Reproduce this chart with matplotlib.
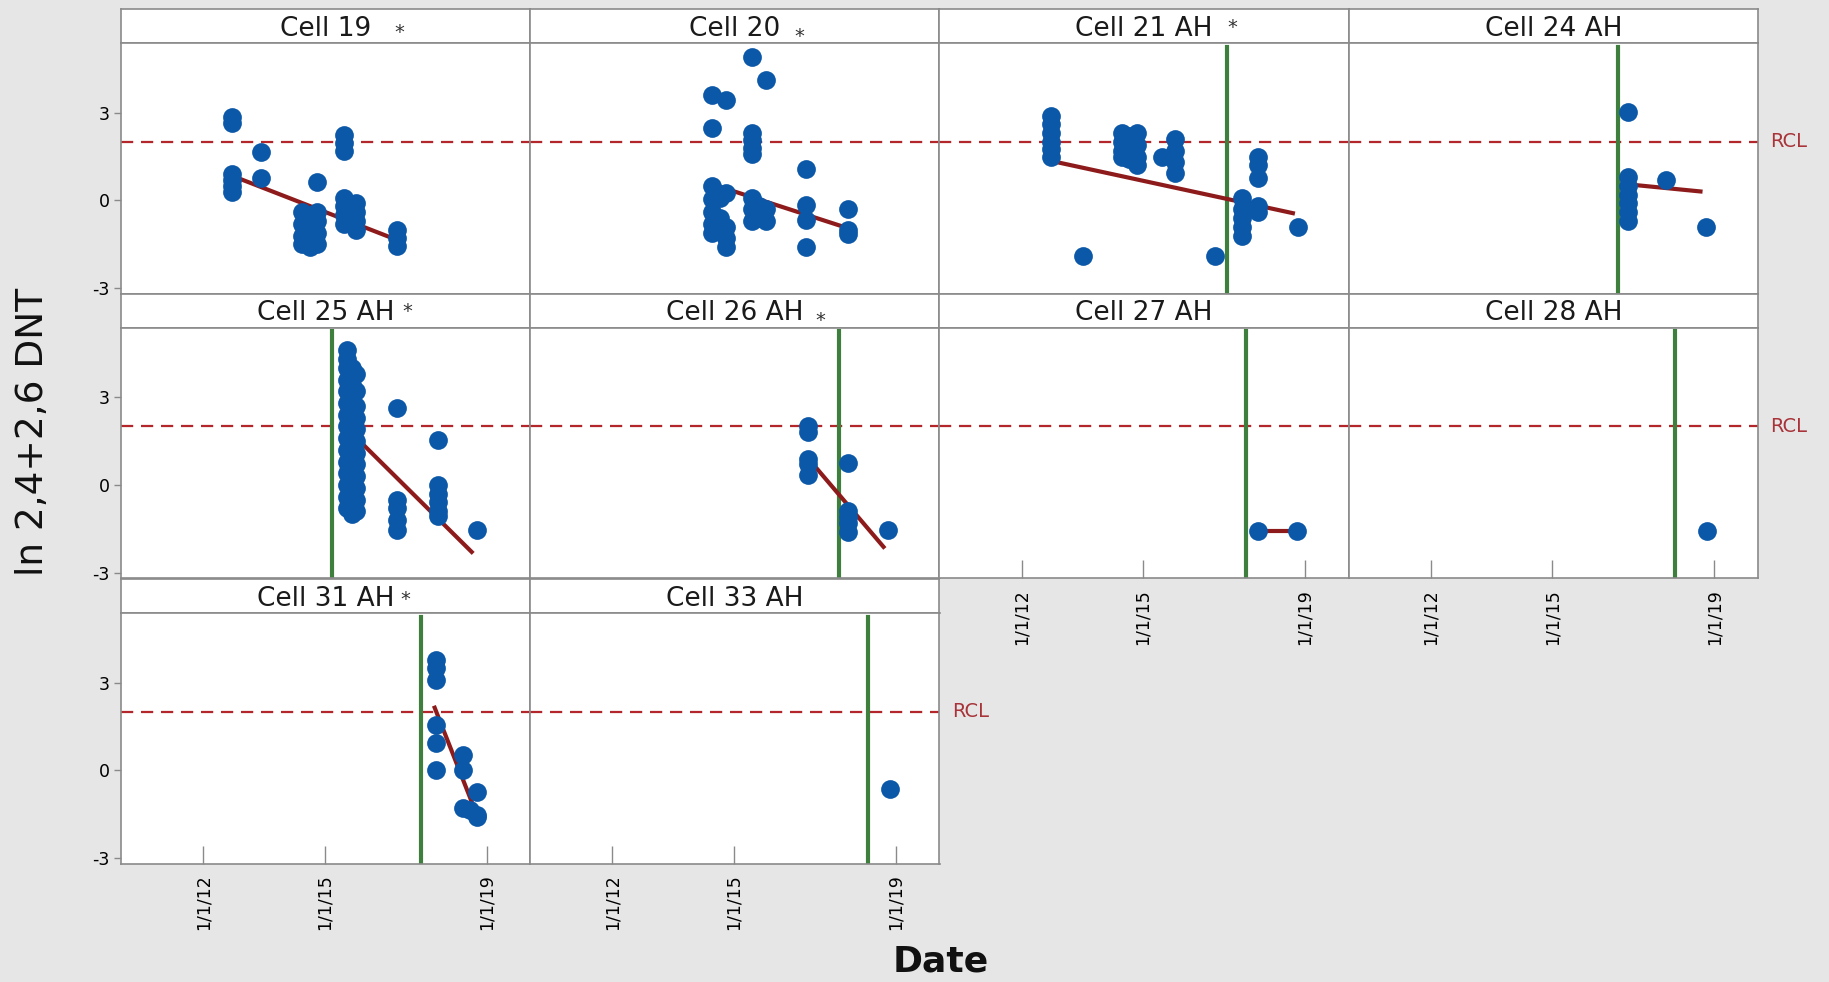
import matplotlib
matplotlib.use('Agg')
import matplotlib.pyplot as plt

# Panel names, in reading order (4 columns)
cells = ['Cell 19', 'Cell 20', 'Cell 21 AH', 'Cell 24 AH', 'Cell 25 AH',
         'Cell 26 AH', 'Cell 27 AH', 'Cell 28 AH', 'Cell 31 AH', 'Cell 33 AH']
starred = [True, True, True, False, True, True, False, False, True, False]

# Sample dates as decimal years, values are ln(2,4+2,6 DNT)
cell19_date = [2012.70, 2012.70, 2012.70, 2012.70, 2012.70, 2012.70,
               2013.42, 2013.42, 2014.82,
               2014.45, 2014.45, 2014.45, 2014.45,
               2014.65, 2014.65, 2014.65, 2014.65,
               2014.82, 2014.82, 2014.82, 2014.82,
               2015.47, 2015.47, 2015.47, 2015.47, 2015.47, 2015.47, 2015.47,
               2015.78, 2015.78, 2015.78, 2015.78,
               2016.79, 2016.79, 2016.79]
cell19_value = [2.85, 2.65, 0.9, 0.7, 0.5, 0.3,
                1.65, 0.75, 0.63,
                -0.4, -0.8, -1.2, -1.5,
                -0.5, -0.9, -1.3, -1.6,
                -0.4, -0.7, -1.1, -1.5,
                2.25, 1.95, 1.7, 0.1, -0.2, -0.5, -0.8,
                -0.1, -0.4, -0.7, -1.0,
                -1.0, -1.3, -1.55]

cell20_date = [2015.46, 2015.79, 2014.47, 2014.81, 2014.47,
               2015.46, 2015.46, 2015.46, 2015.46,
               2016.77,
               2014.47, 2014.47, 2014.47, 2014.47, 2014.47,
               2014.65, 2014.65, 2014.81, 2014.81, 2014.81, 2014.81,
               2015.46, 2015.46, 2015.46, 2015.62, 2015.62, 2015.79, 2015.79,
               2016.77, 2016.77, 2016.77,
               2017.82, 2017.82, 2017.82]
cell20_value = [4.89, 4.10, 3.62, 3.44, 2.48,
                2.3, 2.05, 1.8, 1.6,
                1.08,
                0.5, 0.05, -0.4, -0.8, -1.1,
                0.1, -0.6, 0.25, -0.9, -1.3, -1.6,
                0.1, -0.3, -0.7, -0.2, -0.6, -0.3, -0.7,
                -0.17, -0.68, -1.59,
                -0.28, -1.02, -1.15]

cell21_date = [2012.73, 2012.73, 2012.73, 2012.73, 2012.73, 2012.73,
               2013.51,
               2014.47, 2014.47, 2014.47, 2014.47,
               2014.65, 2014.65, 2014.65,
               2014.85, 2014.85, 2014.85, 2014.85,
               2015.47,
               2015.80, 2015.80, 2015.80, 2015.80,
               2016.78,
               2017.44, 2017.44, 2017.44, 2017.44, 2017.44,
               2017.85, 2017.85, 2017.85, 2017.85, 2017.85,
               2018.83]
cell21_value = [2.9, 2.6, 2.3, 2.0, 1.75, 1.5,
                -1.91,
                2.3, 2.0, 1.7, 1.5,
                2.2, 1.8, 1.4,
                2.3, 1.9, 1.5, 1.2,
                1.48,
                2.1, 1.7, 1.3, 0.95,
                -1.91,
                0.1, -0.3, -0.6, -0.9, -1.2,
                1.5, 1.2, 0.75, -0.2, -0.4,
                -0.91]

cell24_date = [2016.87, 2016.87, 2016.87, 2016.87, 2016.87, 2016.87, 2016.87,
               2017.81, 2018.79]
cell24_value = [3.01, 0.8, 0.5, 0.2, -0.1, -0.4, -0.7, 0.71, -0.91]

cell25_date = [2015.55, 2015.55, 2015.55, 2015.55, 2015.55, 2015.55, 2015.55,
               2015.55, 2015.55, 2015.55, 2015.55, 2015.55, 2015.55, 2015.55,
               2015.55,
               2015.67, 2015.67, 2015.67, 2015.67, 2015.67, 2015.67, 2015.67,
               2015.67, 2015.67, 2015.67, 2015.67, 2015.67, 2015.67,
               2015.78, 2015.78, 2015.78, 2015.78, 2015.78, 2015.78, 2015.78,
               2015.78, 2015.78, 2015.78, 2015.78, 2015.78,
               2016.80, 2016.80, 2016.80, 2016.80, 2016.80,
               2017.79, 2017.79, 2017.79, 2017.79, 2017.79, 2017.79,
               2018.77]
cell25_value = [4.6, 4.3, 4.0, 3.6, 3.2, 2.8, 2.4, 2.0, 1.6, 1.2, 0.8, 0.4,
                0.0, -0.4, -0.8,
                4.0, 3.4, 3.0, 2.6, 2.2, 1.8, 1.4, 1.0, 0.6, 0.2, -0.2, -0.6,
                -1.0,
                3.8, 3.2, 2.7, 2.3, 1.9, 1.5, 1.1, 0.7, 0.3, -0.1, -0.5, -0.9,
                2.63, -0.5, -0.8, -1.2, -1.55,
                1.54, 0.0, -0.3, -0.6, -0.9, -1.05,
                -1.54]

cell26_date = [2016.84, 2016.84, 2016.84, 2016.84, 2016.84,
               2017.83, 2017.83, 2017.83, 2017.83, 2017.83,
               2018.81]
cell26_value = [2.0, 1.8, 0.9, 0.7, 0.35,
                0.74, -0.9, -1.1, -1.3, -1.6,
                -1.54]

cell27_date = [2017.84, 2018.81]
cell27_value = [-1.56, -1.56]

cell28_date = [2018.81]
cell28_value = [-1.57]

cell31_date = [2017.76, 2017.76, 2017.76, 2017.76, 2017.76, 2017.76,
               2018.42, 2018.42, 2018.42, 2018.60,
               2018.77, 2018.77, 2018.77]
cell31_value = [3.78, 3.49, 3.1, 1.56, 0.94, 0.0,
                0.54, 0.02, -1.28, -1.35,
                -0.72, -1.51, -1.59]

cell33_date = [2018.86]
cell33_value = [-0.64]

# vertical green marker per cell (None = no line)
green_date = [None, None, 2017.07, 2016.62, 2015.19,
              2017.59, 2017.55, 2018.04, 2017.39, 2018.31]

# fitted trend segments (None = no trend drawn)
trend_x0 = [2012.70, 2014.47, 2012.73, 2016.87, 2015.50,
            2016.84, 2017.84, None, 2017.70, None]
trend_y0 = [0.85, 0.55, 1.35, 0.55, 2.0, 0.9, -1.56, None, 2.21, None]
trend_x1 = [2016.79, 2017.82, 2018.75, 2018.71, 2018.67,
            2018.73, 2018.81, None, 2018.71, None]
trend_y1 = [-1.35, -0.95, -0.45, 0.3, -2.34, -2.17, -1.56, None, -1.34, None]

rcl = 2.0
tick_years = [2012, 2015, 2019]
tick_labels = ['1/1/12', '1/1/15', '1/1/19']
y_ticks = [-3, 0, 3]

dates = [cell19_date, cell20_date, cell21_date, cell24_date, cell25_date,
         cell26_date, cell27_date, cell28_date, cell31_date, cell33_date]
values = [cell19_value, cell20_value, cell21_value, cell24_value, cell25_value,
          cell26_value, cell27_value, cell28_value, cell31_value, cell33_value]

# ---- layout (pixels) ----
W, H = 1829, 982
left0, col_w = 121, 409.25
row_top = [9, 293.5, 579]
strip_h, plot_h = 34, 250.5

BG = '#E6E6E6'
FRAME = '#8A8A8A'
BLUE = '#0B57A8'
TREND = '#8E1B1B'
RCL_C = '#B3262C'
GREEN = '#3E7F3E'

# asterisk positions within each strip (axes fraction)
star_pos = {0: (0.681, 0.30), 1: (0.658, 0.20), 2: (0.716, 0.46),
            4: (0.700, 0.48), 5: (0.709, 0.20), 8: (0.694, 0.40)}


def px_rect(x, y, w, h):
    return [x / W, 1 - (y + h) / H, w / W, h / H]


fig = plt.figure(figsize=(W / 100, H / 100), dpi=100, facecolor=BG)

for i, name in enumerate(cells):
    row, col = divmod(i, 4)
    x = left0 + col * col_w
    ytop = row_top[row]

    # strip with panel title
    sax = fig.add_axes(px_rect(x, ytop, col_w, strip_h))
    sax.set_facecolor('white')
    sax.set_xticks([])
    sax.set_yticks([])
    for sp in sax.spines.values():
        sp.set_color(FRAME)
        sp.set_linewidth(1.2)
    sax.text(0.5, 0.42, name, ha='center', va='center', fontsize=19,
             color='#1A1A1A', transform=sax.transAxes)
    if starred[i]:
        sx, sy = star_pos[i]
        sax.text(sx, sy, '*', ha='center', va='center', fontsize=14,
                 color='#333333', transform=sax.transAxes)

    ax = fig.add_axes(px_rect(x, ytop + strip_h, col_w, plot_h))
    ax.set_facecolor('white')
    for sp in ax.spines.values():
        sp.set_color(FRAME)
        sp.set_linewidth(1.2)
    ax.set_xlim(2009.97, 2020.08)
    ax.set_ylim(-3.18, 5.38)

    ax.axhline(rcl, color=RCL_C, ls=(0, (5.5, 3.5)), lw=1.6, zorder=1)
    if green_date[i] is not None:
        ax.axvline(green_date[i], ymin=0, ymax=0.985, color=GREEN, lw=3,
                   zorder=2)
    if trend_x0[i] is not None:
        ax.plot([trend_x0[i], trend_x1[i]], [trend_y0[i], trend_y1[i]],
                color=TREND, lw=3, zorder=3, solid_capstyle='butt')
    ax.plot(dates[i], values[i], 'o', color=BLUE, ms=13.5, mew=0, zorder=4)

    # y ticks only on the first column
    ax.set_yticks(y_ticks)
    if col == 0:
        ax.set_yticklabels([str(t) for t in y_ticks])
        ax.tick_params(axis='y', direction='out', length=5, width=1,
                       color=FRAME, labelsize=12.5, pad=3)
    else:
        ax.tick_params(axis='y', length=0, labelleft=False)

    # x tick labels where nothing sits below the panel
    bottom = (row == 2) or (row == 1 and col >= 2)
    ax.set_xticks(tick_years)
    if bottom:
        ax.set_xticklabels(tick_labels, rotation=90)
        ax.tick_params(axis='x', direction='in', length=13, width=1,
                       color=FRAME, labelsize=12.5, pad=8)
    else:
        ax.tick_params(axis='x', length=0, labelbottom=False)

    # RCL label after the last panel of each row
    if i in (3, 7, 9):
        ax.text(1.03, rcl, 'RCL', transform=ax.get_yaxis_transform(),
                ha='left', va='center', fontsize=14, color='#A8343A',
                clip_on=False)

fig.text(33.5 / W, 1 - 432 / H, 'ln 2,4+2,6 DNT', rotation=90, ha='center',
         va='center', fontsize=27, color='#111111')
fig.text(941 / W, 1 - 962 / H, 'Date', ha='center', va='center',
         fontsize=26, fontweight='bold', color='#111111')

fig.savefig('out.png', dpi=100, facecolor=BG)
